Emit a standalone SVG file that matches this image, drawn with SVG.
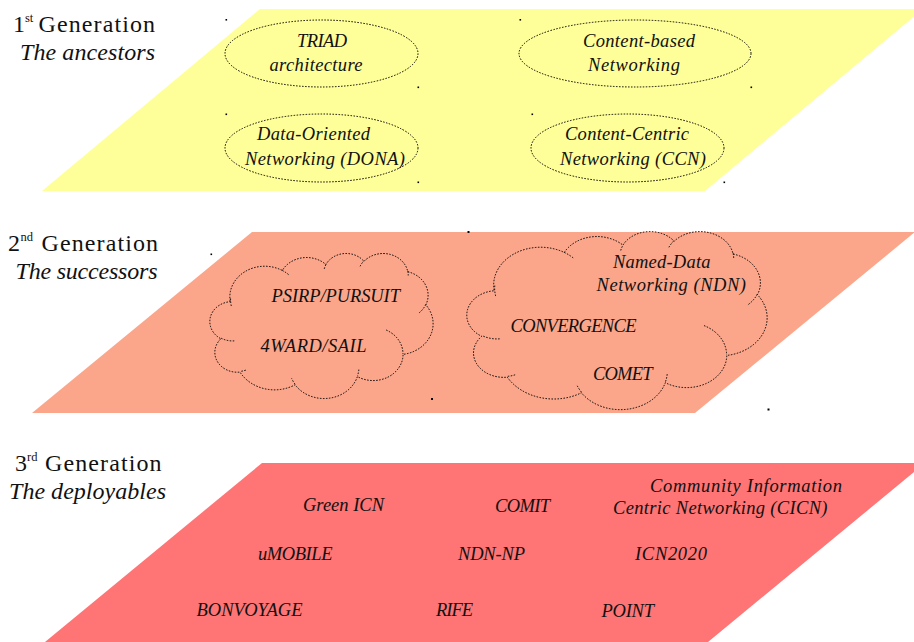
<svg xmlns="http://www.w3.org/2000/svg" width="914" height="642" viewBox="0 0 914 642">
<defs>
<style>
.head{font-family:"Liberation Serif","Times New Roman",serif;font-size:24px;fill:#111}
.gen{letter-spacing:1.1px}
.headi{font-family:"Liberation Serif","Times New Roman",serif;font-size:24px;font-style:italic;fill:#111}
.sup{font-family:"Liberation Serif","Times New Roman",serif;font-size:12.5px;fill:#111}
.lbl{font-family:"Liberation Serif","Times New Roman",serif;font-size:18.5px;font-style:italic;fill:#111}
.dot{fill:none;stroke:#000;stroke-width:1;stroke-dasharray:1.5 1.5}
.pt{fill:#000}
</style>
</defs>
<rect width="914" height="642" fill="#ffffff"/>

<g id="layer1">
  <polygon points="260,9 923,9 705,191 42,191" fill="#ffff99"/>
  <rect class="pt" x="225.5" y="19" width="1.6" height="1.6"/>
  <rect class="pt" x="417.5" y="86.5" width="1.6" height="1.6"/>
  <rect class="pt" x="225.5" y="113.5" width="1.6" height="1.6"/>
  <rect class="pt" x="417.5" y="181.5" width="1.6" height="1.6"/>
  <rect class="pt" x="519.5" y="19" width="1.6" height="1.6"/>
  <rect class="pt" x="750.5" y="86.5" width="1.6" height="1.6"/>
  <rect class="pt" x="531.5" y="113.5" width="1.6" height="1.6"/>
  <rect class="pt" x="723.5" y="181.5" width="1.6" height="1.6"/>
</g>
<g id="layer2">
  <polygon points="252,232 915,232 695,413 32,413" fill="#fba68a"/>
  <rect class="pt" x="210.5" y="253.5" width="1.6" height="1.6"/>
  <rect class="pt" x="431" y="398" width="2" height="2"/>
  <rect class="pt" x="467.5" y="231" width="2" height="2"/>
  <rect class="pt" x="767.5" y="408.5" width="2" height="2"/>
</g>
<g id="layer3">
  <polygon points="262,463 925,463 708,642 45,642" fill="#ff7474"/>
</g>

<g id="heading1">
  <text class="head" x="13" y="32">1</text>
  <text class="sup" x="25" y="22">st</text>
  <text class="head gen" x="38.5" y="32">Generation</text>
  <text class="headi" x="20" y="60" textLength="135">The ancestors</text>
</g>
<g id="heading2">
  <text class="head" x="8" y="251">2</text>
  <text class="sup" x="20.5" y="241">nd</text>
  <text class="head gen" x="41.5" y="251">Generation</text>
  <text class="headi" x="15.5" y="279" textLength="142">The successors</text>
</g>
<g id="heading3">
  <text class="head" x="15" y="470.5">3</text>
  <text class="sup" x="27" y="460.5">rd</text>
  <text class="head gen" x="45" y="470.5">Generation</text>
  <text class="headi" x="9" y="499" textLength="157">The deployables</text>
</g>

<g id="triad">
  <ellipse class="dot" cx="321.5" cy="53.5" rx="96.5" ry="33.5"/>
  <text class="lbl" x="297" y="47" textLength="50">TRIAD</text>
  <text class="lbl" x="269.5" y="71" textLength="93">architecture</text>
</g>
<g id="cbn">
  <ellipse class="dot" cx="635" cy="53.5" rx="116" ry="33.5"/>
  <text class="lbl" x="583" y="47" textLength="112">Content-based</text>
  <text class="lbl" x="588" y="71" textLength="92">Networking</text>
</g>
<g id="dona">
  <ellipse class="dot" cx="321.5" cy="148" rx="96.5" ry="34"/>
  <text class="lbl" x="257" y="140" textLength="113">Data-Oriented</text>
  <text class="lbl" x="245" y="165" textLength="160">Networking (DONA)</text>
</g>
<g id="ccn">
  <ellipse class="dot" cx="627.5" cy="148" rx="96.5" ry="34"/>
  <text class="lbl" x="565" y="140" textLength="124">Content-Centric</text>
  <text class="lbl" x="560" y="165" textLength="146">Networking (CCN)</text>
</g>

<g id="cloud-left">
  <path class="dot" d="M230.13,301.23 A34.86,30.85 0 0 1 282.29,270.46 A27.53,24.39 0 0 1 325.92,264.52 A22.53,19.95 0 0 1 364.00,261.33 A25.07,22.14 0 0 1 407.80,271.72 A27.53,24.41 0 0 1 425.87,304.89 A34.97,30.95 0 0 1 403.08,354.38 A29.86,26.41 0 0 1 357.41,376.56 A34.85,30.93 0 0 1 295.07,384.79 A39.85,35.39 0 0 1 239.97,372.08 A22.51,19.86 0 0 1 220.92,338.77 A22.43,19.95 0 0 1 229.96,301.71 Z"/>
  <path class="dot" d="M234.23,340.86 A22.43,19.95 0 0 1 221.14,338.19 M245.76,370.14 A22.51,19.86 0 0 1 240.04,371.42 M295.06,384.21 A34.85,30.93 0 0 1 291.61,378.36 M358.81,369.64 A34.85,30.93 0 0 1 357.43,376.05 M386.17,330.04 A29.86,26.41 0 0 1 402.96,354.0 M425.76,304.54 A27.53,24.41 0 0 1 418.29,313.52 M407.83,271.21 A25.07,22.14 0 0 1 408.22,275.45 M360.10,266.27 A25.07,22.14 0 0 1 363.93,260.85 M324.29,268.84 A22.53,19.95 0 0 1 326.15,264.18 M282.27,270.43 A34.86,30.85 0 0 1 288.98,274.96 M231.30,306.0 A34.86,30.85 0 0 1 230.65,297.36"/>
  <text class="lbl" x="271.5" y="302" textLength="128.5">PSIRP/PURSUIT</text>
  <text class="lbl" x="260.5" y="352" textLength="106">4WARD/SAIL</text>
</g>
<g id="cloud-right">
  <path class="dot" d="M494.08,290.21 A46.90,37.87 0 0 1 564.26,252.43 A37.03,29.94 0 0 1 622.94,245.15 A30.31,24.50 0 0 1 674.17,241.22 A33.73,27.17 0 0 1 733.10,253.98 A37.03,29.97 0 0 1 757.41,294.70 A47.05,37.99 0 0 1 726.76,355.44 A40.17,32.42 0 0 1 665.31,382.68 A46.89,37.97 0 0 1 581.45,392.79 A53.61,43.44 0 0 1 507.32,377.18 A30.28,24.38 0 0 1 481.69,336.30 A30.17,24.50 0 0 1 493.85,290.79 Z"/>
  <path class="dot" d="M499.59,338.86 A30.17,24.50 0 0 1 481.99,335.58 M515.11,374.80 A30.28,24.38 0 0 1 507.42,376.37 M581.43,392.07 A46.89,37.97 0 0 1 576.78,384.89 M667.19,374.19 A46.89,37.97 0 0 1 665.34,382.05 M704.01,325.58 A40.17,32.42 0 0 1 726.59,354.98 M757.26,294.26 A37.03,29.97 0 0 1 747.21,305.29 M733.14,253.36 A33.73,27.17 0 0 1 733.67,258.57 M668.93,247.28 A33.73,27.17 0 0 1 674.08,240.64 M620.76,250.45 A30.31,24.50 0 0 1 623.25,244.72 M564.22,252.39 A46.90,37.87 0 0 1 573.26,257.96 M495.66,296.06 A46.90,37.87 0 0 1 494.78,285.45"/>
  <text class="lbl" x="613" y="268" textLength="97.5">Named-Data</text>
  <text class="lbl" x="596.5" y="290.5" textLength="149.5">Networking (NDN)</text>
  <text class="lbl" x="510.5" y="331.5" textLength="126">CONVERGENCE</text>
  <text class="lbl" x="593" y="380" textLength="59.5">COMET</text>
</g>

<g id="green-icn"><text class="lbl" x="303" y="511" textLength="81">Green ICN</text></g>
<g id="comit"><text class="lbl" x="495" y="512" textLength="55">COMIT</text></g>
<g id="cicn">
  <text class="lbl" x="650" y="492" textLength="192">Community Information</text>
  <text class="lbl" x="613" y="514" textLength="214.5">Centric Networking (CICN)</text>
</g>
<g id="umobile"><text class="lbl" x="258" y="560" textLength="74.5">uMOBILE</text></g>
<g id="ndn-np"><text class="lbl" x="458" y="560" textLength="67">NDN-NP</text></g>
<g id="icn2020"><text class="lbl" x="635" y="560" textLength="72">ICN2020</text></g>
<g id="bonvoyage"><text class="lbl" x="196.5" y="616" textLength="106">BONVOYAGE</text></g>
<g id="rife"><text class="lbl" x="436" y="616" textLength="37">RIFE</text></g>
<g id="point"><text class="lbl" x="601.5" y="617" textLength="52.5">POINT</text></g>

<g id="connectors"/>
</svg>
